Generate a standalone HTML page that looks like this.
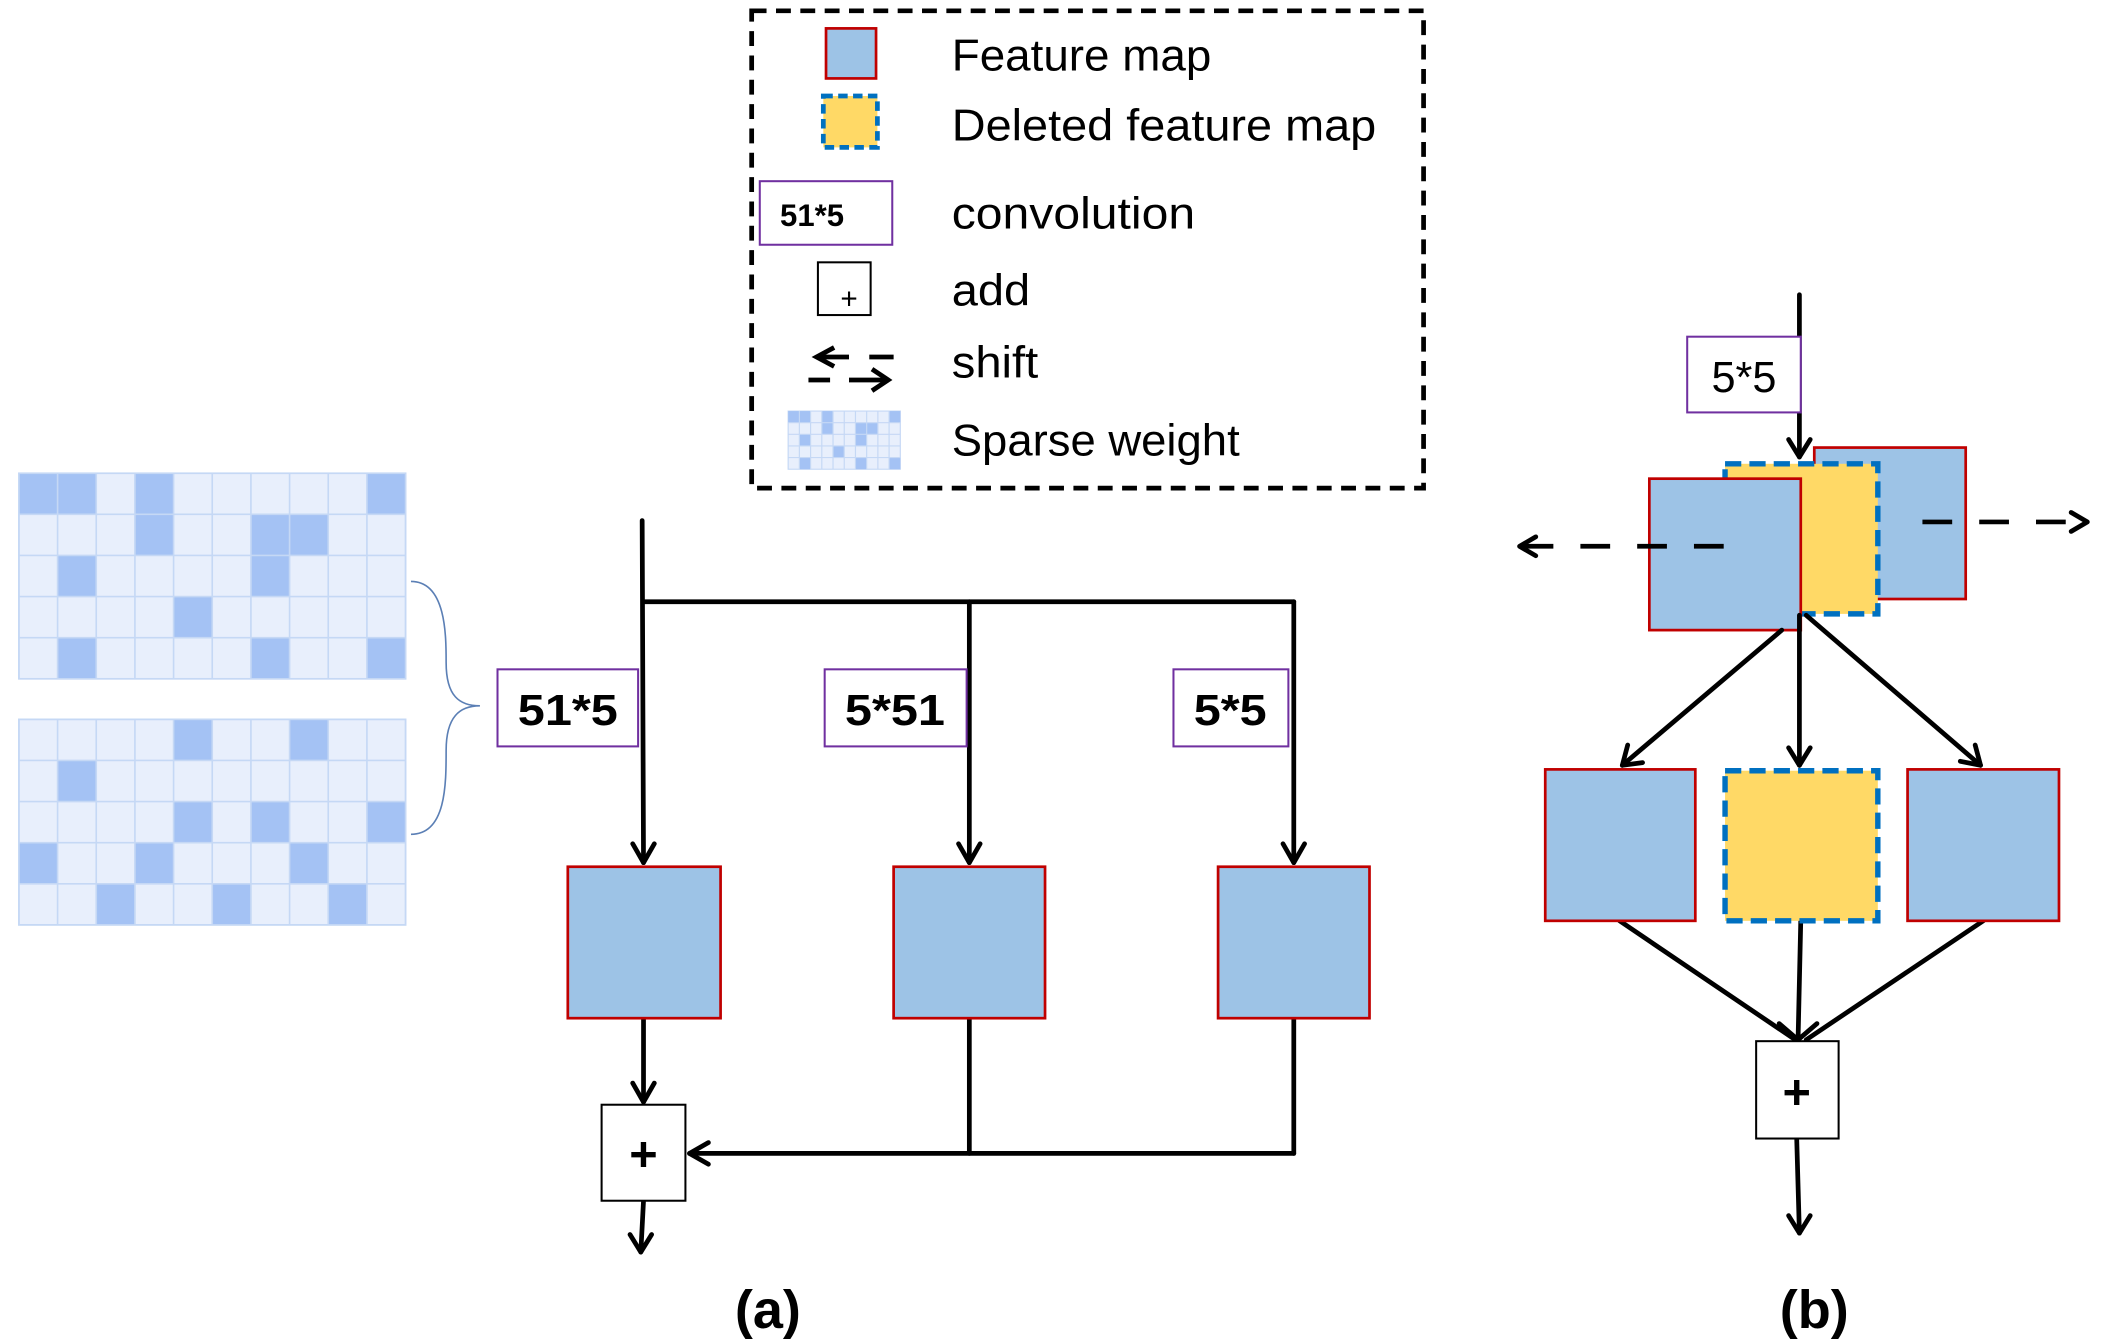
<!DOCTYPE html>
<html><head><meta charset="utf-8"><style>html,body{margin:0;padding:0;background:#fff}svg{display:block}</style></head>
<body>
<svg width="2109" height="1340" viewBox="0 0 1560 991" preserveAspectRatio="none" xmlns="http://www.w3.org/2000/svg" font-family="Liberation Sans, sans-serif">
<!-- brace -->
<path d="M304,430 C330,430 330,470 330,490 C330,515 340,522 355,522 C340,522 330,530 330,555 C330,580 330,617 304,617" fill="none" stroke="#5b7fb5" stroke-width="1.2"/>

<!-- legend -->
<rect x="556" y="8" width="497" height="353" fill="none" stroke="#000" stroke-width="3.5" stroke-dasharray="11,7"/>
<rect x="611" y="21" width="37" height="37" fill="#9dc3e6" stroke="#c00000" stroke-width="2"/>
<rect x="609" y="71" width="40" height="38" fill="#ffd966" stroke="#0070c0" stroke-width="3.5" stroke-dasharray="7,4"/>
<rect x="562" y="134" width="98" height="47" fill="#fff" stroke="#7030a0" stroke-width="1.5"/>
<text x="577" y="167" font-size="23" font-weight="bold">51*5</text>
<rect x="605" y="194" width="39" height="39" fill="#fff" stroke="#000" stroke-width="1.5"/>
<text x="628" y="228" font-size="22" text-anchor="middle">+</text>
<g stroke="#000" stroke-width="3.5" fill="none">
<path d="M617,257 L604,264 L617,271"/><line x1="604" y1="264" x2="628" y2="264"/><line x1="643" y1="264" x2="661" y2="264"/>
<line x1="598" y1="281" x2="614" y2="281"/><line x1="628" y1="281" x2="656" y2="281"/><path d="M645,273 L657,281 L645,289"/>
</g>
<g font-size="33" fill="#000">
<text x="704" y="52" textLength="192" lengthAdjust="spacingAndGlyphs">Feature map</text>
<text x="704" y="104" textLength="314" lengthAdjust="spacingAndGlyphs">Deleted feature map</text>
<text x="704" y="169" textLength="180" lengthAdjust="spacingAndGlyphs">convolution</text>
<text x="704" y="226" textLength="58" lengthAdjust="spacingAndGlyphs">add</text>
<text x="704" y="279" textLength="64" lengthAdjust="spacingAndGlyphs">shift</text>
<text x="704" y="337" textLength="213" lengthAdjust="spacingAndGlyphs">Sparse weight</text>
</g>

<!-- part a -->
<g stroke="#000" stroke-width="3.5" fill="none" stroke-linecap="round" stroke-linejoin="round">
<line x1="475" y1="385" x2="476" y2="638"/>
<line x1="477" y1="445" x2="957" y2="445"/>
<line x1="717" y1="445" x2="717" y2="638"/>
<line x1="957" y1="445" x2="957" y2="638"/>
<path d="M468,624 L476,638 L484,624"/>
<path d="M709,624 L717,638 L725,624"/>
<path d="M949,624 L957,638 L965,624"/>
<line x1="476" y1="753" x2="476" y2="815"/>
<path d="M468,801 L476,815 L484,801"/>
<line x1="717" y1="753" x2="717" y2="853"/>
<line x1="957" y1="753" x2="957" y2="853"/>
<line x1="957" y1="853" x2="510" y2="853"/>
<path d="M524,845 L510,853 L524,861"/>
<line x1="476" y1="888" x2="474" y2="926"/>
<path d="M466,913 L474,926 L482,913"/>
</g>
<rect x="368" y="495" width="104" height="57" fill="#fff" stroke="#7030a0" stroke-width="1.5"/>
<text x="420" y="536" font-size="32" font-weight="bold" text-anchor="middle" textLength="74" lengthAdjust="spacingAndGlyphs">51*5</text>
<rect x="610" y="495" width="105" height="57" fill="#fff" stroke="#7030a0" stroke-width="1.5"/>
<text x="662" y="536" font-size="32" font-weight="bold" text-anchor="middle" textLength="74" lengthAdjust="spacingAndGlyphs">5*51</text>
<rect x="868" y="495" width="85" height="57" fill="#fff" stroke="#7030a0" stroke-width="1.5"/>
<text x="910" y="536" font-size="32" font-weight="bold" text-anchor="middle" textLength="54" lengthAdjust="spacingAndGlyphs">5*5</text>
<g fill="#9dc3e6" stroke="#c00000" stroke-width="2">
<rect x="420" y="641" width="113" height="112"/>
<rect x="661" y="641" width="112" height="112"/>
<rect x="901" y="641" width="112" height="112"/>
</g>
<rect x="445" y="817" width="62" height="71" fill="#fff" stroke="#000" stroke-width="1.5"/>
<text x="476" y="866" font-size="36" font-weight="bold" text-anchor="middle">+</text>
<text x="568" y="982" font-size="40" font-weight="bold" text-anchor="middle">(a)</text>

<!-- part b -->
<rect x="1342" y="331" width="112" height="112" fill="#9dc3e6" stroke="#c00000" stroke-width="2"/>
<rect x="1276" y="343" width="113" height="111" fill="#ffd966" stroke="#0070c0" stroke-width="4" stroke-dasharray="12,6"/>
<rect x="1220" y="354" width="112" height="112" fill="#9dc3e6" stroke="#c00000" stroke-width="2"/>
<g stroke="#000" stroke-width="3.5" fill="none" stroke-linecap="round" stroke-linejoin="round">
<line x1="1331" y1="218" x2="1331" y2="338"/>
<path d="M1323,325 L1331,338 L1339,325"/>
<line x1="1275" y1="404" x2="1124" y2="404" stroke-dasharray="22,20" stroke-linecap="butt"/>
<path d="M1136,397 L1124,404 L1136,411"/>
<line x1="1422" y1="386" x2="1544" y2="386" stroke-dasharray="22,20" stroke-linecap="butt"/>
<path d="M1532,379 L1544,386 L1532,393"/>
<line x1="1318" y1="466" x2="1200" y2="566"/>
<path d="M1204,551 L1200,566 L1215,564"/>
<line x1="1331" y1="455" x2="1331" y2="566"/>
<path d="M1323,553 L1331,566 L1339,553"/>
<line x1="1336" y1="455" x2="1465" y2="566"/>
<path d="M1450,563 L1465,566 L1461,551"/>
<line x1="1198" y1="681" x2="1328" y2="769"/>
<line x1="1332" y1="681" x2="1330" y2="769"/>
<line x1="1467" y1="681" x2="1336" y2="769"/>
<path d="M1316,757 L1330,769 L1344,757"/>
<line x1="1329" y1="842" x2="1331" y2="912"/>
<path d="M1323,899 L1331,912 L1339,899"/>
</g>
<rect x="1248" y="249" width="84" height="56" fill="#fff" stroke="#7030a0" stroke-width="1.5"/>
<text x="1290" y="290" font-size="32" text-anchor="middle">5*5</text>
<rect x="1143" y="569" width="111" height="112" fill="#9dc3e6" stroke="#c00000" stroke-width="2"/>
<rect x="1276" y="570" width="113" height="111" fill="#ffd966" stroke="#0070c0" stroke-width="4" stroke-dasharray="12,6"/>
<rect x="1411" y="569" width="112" height="112" fill="#9dc3e6" stroke="#c00000" stroke-width="2"/>
<rect x="1299" y="770" width="61" height="72" fill="#fff" stroke="#000" stroke-width="1.5"/>
<text x="1329" y="820" font-size="36" font-weight="bold" text-anchor="middle">+</text>
<text x="1342" y="982" font-size="40" font-weight="bold" text-anchor="middle">(b)</text>

<g stroke="#c5d8f5" stroke-width="1.2">
<g transform="translate(14,350)">
<rect width="286" height="152" fill="#e8effc"/>
<g fill="#a4c2f4" stroke="none">
<rect x="0" y="0" width="57.2" height="30.4"/><rect x="85.8" y="0" width="28.6" height="60.8"/><rect x="257.4" y="0" width="28.6" height="30.4"/>
<rect x="171.6" y="30.4" width="57.2" height="30.4"/><rect x="171.6" y="60.8" width="28.6" height="30.4"/>
<rect x="28.6" y="60.8" width="28.6" height="30.4"/>
<rect x="114.4" y="91.2" width="28.6" height="30.4"/>
<rect x="28.6" y="121.6" width="28.6" height="30.4"/><rect x="171.6" y="121.6" width="28.6" height="30.4"/><rect x="257.4" y="121.6" width="28.6" height="30.4"/>
</g>
<path d="M28.6,0V152M57.2,0V152M85.8,0V152M114.4,0V152M143,0V152M171.6,0V152M200.2,0V152M228.8,0V152M257.4,0V152M0,30.4H286M0,60.8H286M0,91.2H286M0,121.6H286" fill="none"/>
<rect width="286" height="152" fill="none"/>
</g>
<g transform="translate(14,532)">
<rect width="286" height="152" fill="#e8effc"/>
<g fill="#a4c2f4" stroke="none">
<rect x="114.4" y="0" width="28.6" height="30.4"/><rect x="200.2" y="0" width="28.6" height="30.4"/>
<rect x="28.6" y="30.4" width="28.6" height="30.4"/>
<rect x="114.4" y="60.8" width="28.6" height="30.4"/><rect x="171.6" y="60.8" width="28.6" height="30.4"/><rect x="257.4" y="60.8" width="28.6" height="30.4"/>
<rect x="0" y="91.2" width="28.6" height="30.4"/><rect x="85.8" y="91.2" width="28.6" height="30.4"/><rect x="200.2" y="91.2" width="28.6" height="30.4"/>
<rect x="57.2" y="121.6" width="28.6" height="30.4"/><rect x="143" y="121.6" width="28.6" height="30.4"/><rect x="228.8" y="121.6" width="28.6" height="30.4"/>
</g>
<path d="M28.6,0V152M57.2,0V152M85.8,0V152M114.4,0V152M143,0V152M171.6,0V152M200.2,0V152M228.8,0V152M257.4,0V152M0,30.4H286M0,60.8H286M0,91.2H286M0,121.6H286" fill="none"/>
<rect width="286" height="152" fill="none"/>
</g>
<g transform="translate(583,304) scale(0.29,0.283)" stroke-width="3">
<rect width="286" height="152" fill="#e8effc"/>
<g fill="#a4c2f4" stroke="none">
<rect x="0" y="0" width="57.2" height="30.4"/><rect x="85.8" y="0" width="28.6" height="60.8"/><rect x="257.4" y="0" width="28.6" height="30.4"/>
<rect x="171.6" y="30.4" width="57.2" height="30.4"/><rect x="171.6" y="60.8" width="28.6" height="30.4"/>
<rect x="28.6" y="60.8" width="28.6" height="30.4"/>
<rect x="114.4" y="91.2" width="28.6" height="30.4"/>
<rect x="28.6" y="121.6" width="28.6" height="30.4"/><rect x="171.6" y="121.6" width="28.6" height="30.4"/><rect x="257.4" y="121.6" width="28.6" height="30.4"/>
</g>
<path d="M28.6,0V152M57.2,0V152M85.8,0V152M114.4,0V152M143,0V152M171.6,0V152M200.2,0V152M228.8,0V152M257.4,0V152M0,30.4H286M0,60.8H286M0,91.2H286M0,121.6H286" fill="none"/>
</g>
</g>
</svg>
</body></html>
